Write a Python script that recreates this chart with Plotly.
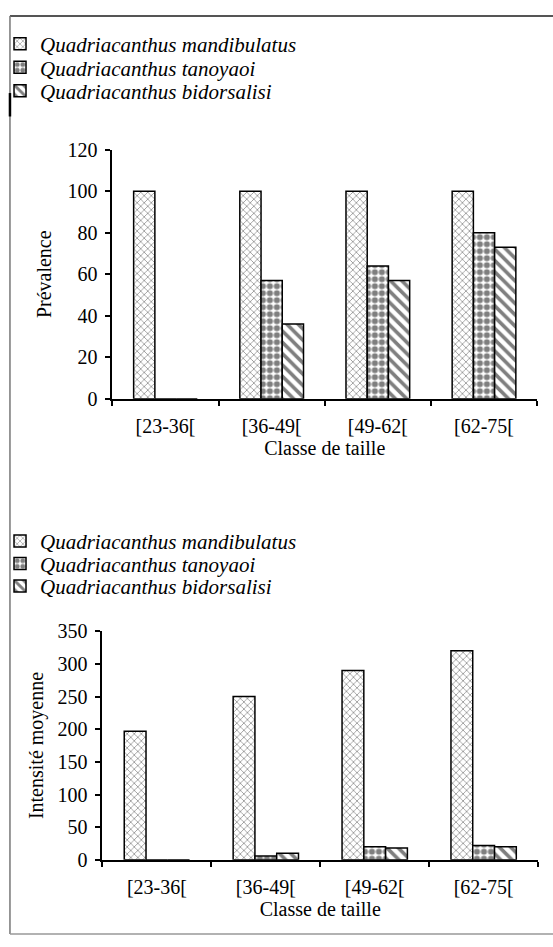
import plotly.graph_objects as go

W, H = 553, 947

categories = ["[23-36[", "[36-49[", "[49-62[", "[62-75["]
species = ["Quadriacanthus mandibulatus", "Quadriacanthus tanoyaoi", "Quadriacanthus bidorsalisi"]

prev_mandibulatus = [100, 100, 100, 100]
prev_tanoyaoi = [0, 57, 64, 80]
prev_bidorsalisi = [0, 36, 57, 73]

int_mandibulatus = [197, 250, 290, 320]
int_tanoyaoi = [0, 6, 20, 22]
int_bidorsalisi = [0, 10, 18, 20]

prev_ticks = [0, 20, 40, 60, 80, 100, 120]
int_ticks = [0, 50, 100, 150, 200, 250, 300, 350]

FONT = "Liberation Serif, Times New Roman, serif"

patterns = [
    dict(shape="x", size=5, solidity=0.3, fgcolor="#2a2a2a", bgcolor="white"),
    dict(shape=".", size=7, solidity=0.6, fgcolor="black", bgcolor="white"),
    dict(shape="\\", size=8, solidity=0.45, fgcolor="black", bgcolor="white"),
]

fig = go.Figure()

top_vals = [prev_mandibulatus, prev_tanoyaoi, prev_bidorsalisi]
bot_vals = [int_mandibulatus, int_tanoyaoi, int_bidorsalisi]

for i, (name, vals, pat) in enumerate(zip(species, top_vals, patterns)):
    fig.add_trace(go.Bar(
        x=categories, y=vals, name="<i>" + name + "</i>", xaxis="x", yaxis="y",
        legend="legend" if i == 0 else "legend%d" % (i + 1), showlegend=True,
        marker=dict(color="white", line=dict(color="black", width=1.5), pattern=pat),
    ))
for i, (name, vals, pat) in enumerate(zip(species, bot_vals, patterns)):
    fig.add_trace(go.Bar(
        x=categories, y=vals, name="<i>" + name + "</i>", xaxis="x2", yaxis="y2",
        legend="legend%d" % (i + 4), showlegend=True,
        marker=dict(color="white", line=dict(color="black", width=1.5), pattern=pat),
    ))


def px(xp):
    return xp / W


def py(yp):
    return 1 - yp / H


axis_common = dict(
    showline=True, linecolor="black", linewidth=2,
    ticks="outside", ticklen=5, tickwidth=2, tickcolor="black",
    showgrid=False, zeroline=False,
    tickfont=dict(family=FONT, size=20, color="black"),
)


def leg(yc):
    return dict(x=px(-3), y=py(yc), xanchor="left", yanchor="middle", visible=True,
                font=dict(family=FONT, size=21, color="black"),
                bgcolor="rgba(0,0,0,0)", itemwidth=30, tracegroupgap=0)


legend_rows = [34, 58, 82, 543, 566, 589]

layout_legends = {}
for i, yc in enumerate(legend_rows):
    key = "legend" if i == 0 else "legend%d" % (i + 1)
    layout_legends[key] = leg(yc)

fig.update_layout(
    width=W, height=H,
    margin=dict(l=0, r=0, t=0, b=0),
    paper_bgcolor="white", plot_bgcolor="white",
    showlegend=True,
    barmode="group", bargap=0.4, bargroupgap=0,
    font=dict(family=FONT, size=20, color="black"),
    xaxis=dict(domain=[px(110), px(537)], anchor="y", tickson="boundaries",
               ticklabelstandoff=8,
               title=dict(text="Classe de taille", font=dict(family=FONT, size=20), standoff=5),
               **axis_common),
    yaxis=dict(domain=[py(397), py(142)], anchor="x", range=[0, 120],
               tickvals=prev_ticks, ticklabelstandoff=4,
               title=dict(text="Prévalence", font=dict(family=FONT, size=20), standoff=10),
               **axis_common),
    xaxis2=dict(domain=[px(100), px(538)], anchor="y2", tickson="boundaries",
                ticklabelstandoff=8,
                title=dict(text="Classe de taille", font=dict(family=FONT, size=20), standoff=5),
                **axis_common),
    yaxis2=dict(domain=[py(869), py(635)], anchor="x2", range=[0, 350],
                tickvals=int_ticks, ticklabelstandoff=4,
                title=dict(text="Intensité moyenne", font=dict(family=FONT, size=20), standoff=8),
                **axis_common),
    shapes=[
        dict(type="line", xref="paper", yref="paper", x0=px(7), x1=px(553), y0=py(5), y1=py(5),
             line=dict(color="#555555", width=2)),
        dict(type="line", xref="paper", yref="paper", x0=px(7), x1=px(7), y0=py(5), y1=py(945),
             line=dict(color="#777777", width=1.5)),
        dict(type="line", xref="paper", yref="paper", x0=px(7), x1=px(553), y0=py(945), y1=py(945),
             line=dict(color="#999999", width=1.5)),
        dict(type="line", xref="paper", yref="paper", x0=px(7), x1=px(7), y0=py(84), y1=py(108),
             line=dict(color="black", width=2.5)),
    ],
    **layout_legends,
)

fig.write_html("out.html")
